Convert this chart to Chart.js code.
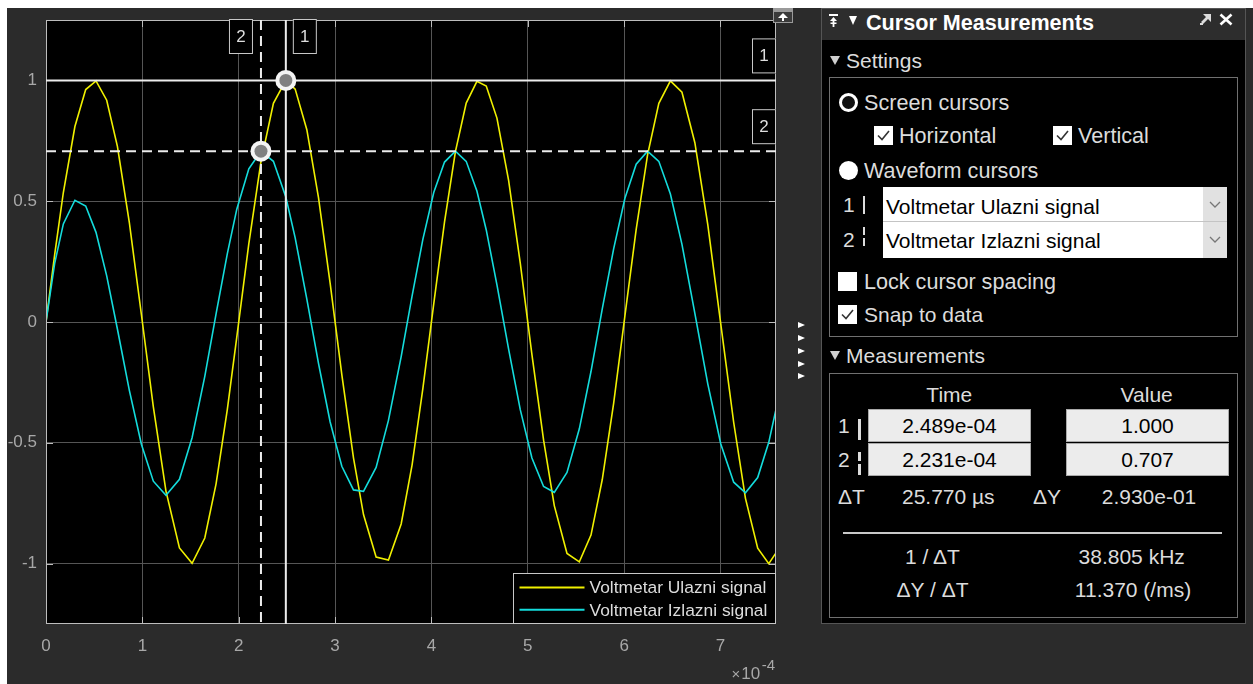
<!DOCTYPE html>
<html>
<head>
<meta charset="utf-8">
<title>Cursor Measurements</title>
<script src="https://cdn.jsdelivr.net/npm/chart.js@4.4.1/dist/chart.umd.min.js"></script>
<style>
  html, body { margin: 0; padding: 0; width: 1253px; height: 684px; overflow: hidden; background: #fff; font-family: "Liberation Sans", Arial, sans-serif; }
  #fig { position: absolute; left: 7px; top: 8px; width: 1246px; height: 676px; background: #2b2b2b; }
  #scope { position: absolute; left: 0; top: 0; }
  .abs { position: absolute; }
  .t { position: absolute; height: 24px; line-height: 24px; font-size: 21px; white-space: nowrap; color: #dcdcdc; }
  .c { text-align: center; width: 200px; }
  .box { position: absolute; border: 1px solid #707070; box-sizing: border-box; }
  .chk { position: absolute; width: 19px; height: 19px; background: #fff; }
  .tri-down { position: absolute; width: 0; height: 0; border-left: 5px solid transparent; border-right: 5px solid transparent; border-top: 9px solid #cfcfcf; }
  .tri-right { position: absolute; width: 0; height: 0; border-top: 3.5px solid transparent; border-bottom: 3.5px solid transparent; border-left: 7px solid #fff; }
  .field { position: absolute; background: #ececec; border: 1px solid #a9a9a9; box-sizing: border-box; color: #000; font-size: 21px; line-height: 31px; height: 33px; text-align: center; }
  .bar { position: absolute; width: 2.5px; background: #dcdcdc; }
</style>
</head>
<body>
<div id="fig"></div>
<canvas id="scope" width="800" height="684"></canvas>

<!-- small scope toolbar bits -->
<div class="abs" style="left:773px;top:8px;width:20px;height:15px;border:1px solid #9a9a9a;box-sizing:border-box;background:#3a3a3a;">
  <svg width="18" height="13" style="position:absolute;left:0;top:0">
    <rect x="0" y="0" width="18" height="3" fill="#9a9a9a"/>
    <polygon points="9,4 4,9 14,9" fill="#fff"/>
    <rect x="8" y="8" width="2" height="4" fill="#fff"/>
  </svg>
</div>
<div class="tri-right" style="left:798px;top:321.5px"></div>
<div class="tri-right" style="left:798px;top:334.5px"></div>
<div class="tri-right" style="left:798px;top:347.5px"></div>
<div class="tri-right" style="left:798px;top:360.5px"></div>
<div class="tri-right" style="left:798px;top:372.5px"></div>

<!-- Cursor Measurements panel -->
<div class="abs" style="left:821px;top:8px;width:425px;height:616px;border:1px solid #555;box-sizing:border-box;background:#000"></div>
<div class="abs" style="left:822px;top:9px;width:423px;height:31px;background:#2d2d2d"></div>
<svg class="abs" style="left:829px;top:14px" width="10" height="14">
  <rect x="0" y="0" width="9" height="2" fill="#fff"/>
  <polygon points="4.5,3 1,7 8,7" fill="#fff"/>
  <rect x="3.6" y="6" width="1.8" height="7" fill="#fff"/>
  <rect x="1.5" y="8.5" width="6" height="1.5" fill="#fff"/>
</svg>
<div class="tri-down" style="left:849px;top:16px;border-top-color:#fff;border-left-width:4px;border-right-width:4px"></div>
<div class="t" style="left:866px;top:11px;font-weight:bold;font-size:21.6px;color:#fff">Cursor Measurements</div>
<svg class="abs" style="left:1200px;top:14px" width="11" height="11">
  <polygon points="3,0 11,0 11,8 8,5 3,10 1,8 6,3" fill="#dcdcdc"/>
  <rect x="0" y="9" width="3" height="2" fill="#dcdcdc"/>
</svg>
<svg class="abs" style="left:1219px;top:13px" width="14" height="13">
  <line x1="1.5" y1="1.5" x2="12.5" y2="11.5" stroke="#fff" stroke-width="2.6"/>
  <line x1="12.5" y1="1.5" x2="1.5" y2="11.5" stroke="#fff" stroke-width="2.6"/>
</svg>

<!-- Settings -->
<div class="tri-down" style="left:830px;top:56px"></div>
<div class="t" style="left:846px;top:48.5px">Settings</div>
<div class="box" style="left:829px;top:77px;width:409px;height:260px"></div>

<div class="abs" style="left:838.5px;top:92.5px;width:19px;height:19px;border-radius:50%;border:3px solid #fff;box-sizing:border-box;background:#111"></div>
<div class="t" style="left:864px;top:90.5px;font-size:21.6px">Screen cursors</div>

<div class="chk" style="left:874px;top:126px">
  <svg width="19" height="19"><polyline points="4,9.5 8,13.5 15,5" fill="none" stroke="#333" stroke-width="1.6"/></svg>
</div>
<div class="t" style="left:899px;top:124px;font-size:21.6px">Horizontal</div>
<div class="chk" style="left:1053px;top:126px">
  <svg width="19" height="19"><polyline points="4,9.5 8,13.5 15,5" fill="none" stroke="#333" stroke-width="1.6"/></svg>
</div>
<div class="t" style="left:1078px;top:124px;font-size:21.6px">Vertical</div>

<div class="abs" style="left:838.5px;top:161px;width:19px;height:19px;border-radius:50%;background:#fff"></div>
<div class="t" style="left:864px;top:158.5px;font-size:21.6px">Waveform cursors</div>

<div class="t" style="left:843px;top:193px">1</div>
<div class="bar" style="left:862.5px;top:196px;height:18px"></div>
<div class="t" style="left:843px;top:228px">2</div>
<div class="bar" style="left:862.5px;top:227px;height:8px"></div>
<div class="bar" style="left:862.5px;top:238px;height:8px"></div>

<div class="abs" style="left:883px;top:187px;width:344px;height:71px;background:#fff"></div>
<div class="abs" style="left:1203px;top:187px;width:24px;height:71px;background:#e1e1e1"></div>
<div class="abs" style="left:883px;top:220.5px;width:344px;height:1px;background:#c4c4c4"></div>
<svg class="abs" style="left:1209px;top:201px" width="12" height="8"><polyline points="1,1 6,6 11,1" fill="none" stroke="#777" stroke-width="1.3"/></svg>
<svg class="abs" style="left:1209px;top:236px" width="12" height="8"><polyline points="1,1 6,6 11,1" fill="none" stroke="#777" stroke-width="1.3"/></svg>
<div class="t" style="left:886px;top:194.7px;color:#000">Voltmetar Ulazni signal</div>
<div class="t" style="left:886px;top:229.3px;color:#000">Voltmetar Izlazni signal</div>

<div class="chk" style="left:838px;top:272px"></div>
<div class="t" style="left:864px;top:269.7px;font-size:21.6px">Lock cursor spacing</div>
<div class="chk" style="left:838px;top:305px">
  <svg width="19" height="19"><polyline points="4,9.5 8,13.5 15,5" fill="none" stroke="#333" stroke-width="1.6"/></svg>
</div>
<div class="t" style="left:864px;top:303px">Snap to data</div>

<!-- Measurements -->
<div class="tri-down" style="left:830px;top:351px"></div>
<div class="t" style="left:846px;top:344.2px">Measurements</div>
<div class="box" style="left:829px;top:373px;width:409px;height:245px"></div>

<div class="t c" style="left:849.3px;top:382.5px">Time</div>
<div class="t c" style="left:1046.7px;top:382.5px">Value</div>

<div class="t" style="left:838px;top:413.8px">1</div>
<div class="bar" style="left:858px;top:419px;height:21px"></div>
<div class="t" style="left:838px;top:447.7px">2</div>
<div class="bar" style="left:858px;top:452px;height:9px"></div>
<div class="bar" style="left:858px;top:464px;height:11px"></div>

<div class="field" style="left:868px;top:409px;width:163px">2.489e-04</div>
<div class="field" style="left:868px;top:443px;width:163px">2.231e-04</div>
<div class="field" style="left:1066px;top:409px;width:163px">1.000</div>
<div class="field" style="left:1066px;top:443px;width:163px">0.707</div>

<div class="t" style="left:838px;top:485px">ΔT</div>
<div class="t c" style="left:848.3px;top:485px">25.770 µs</div>
<div class="t" style="left:1033px;top:485px">ΔY</div>
<div class="t c" style="left:1049px;top:485px">2.930e-01</div>

<div class="abs" style="left:843px;top:532px;width:379px;height:1.5px;background:#c8c8c8"></div>

<div class="t c" style="left:832.5px;top:544.7px">1 / ΔT</div>
<div class="t c" style="left:1031.7px;top:544.7px">38.805 kHz</div>
<div class="t c" style="left:832.5px;top:578px">ΔY / ΔT</div>
<div class="t c" style="left:1033px;top:578px">11.370 (/ms)</div>

<script>
// time axis in units of 1e-4 s (the axis shows "x10^-4")
const time = [0, 0.09, 0.18, 0.30, 0.412, 0.519, 0.63, 0.741, 0.865, 0.99,
  1.114, 1.245, 1.385, 1.516, 1.648, 1.765, 1.882, 1.98, 2.105, 2.231,
  2.36, 2.489, 2.586, 2.707, 2.828, 2.949, 3.07, 3.191, 3.295, 3.426,
  3.554, 3.686, 3.799, 3.911, 4.024, 4.136, 4.249, 4.361, 4.472, 4.569,
  4.68, 4.801, 4.922, 5.043, 5.164, 5.275, 5.407, 5.535, 5.656, 5.773,
  5.891, 6.008, 6.125, 6.243, 6.36, 6.48, 6.60, 6.734, 6.868, 7.003,
  7.137, 7.259, 7.386, 7.501, 7.62];

const ulazni = [0, 0.279, 0.536, 0.809, 0.962, 0.998, 0.918, 0.727, 0.411, 0.031,
  -0.351, -0.700, -0.935, -0.999, -0.894, -0.670, -0.362, -0.063, 0.324, 0.664,
  0.905, 1.000, 0.964, 0.796, 0.515, 0.160, -0.218, -0.562, -0.797, -0.973,
  -0.985, -0.836, -0.592, -0.276, 0.075, 0.414, 0.705, 0.906, 0.996, 0.977,
  0.844, 0.586, 0.244, -0.135, -0.489, -0.760, -0.958, -0.993, -0.882, -0.652,
  -0.337, 0.025, 0.383, 0.692, 0.905, 0.998, 0.951, 0.742, 0.403, -0.009,
  -0.416, -0.730, -0.936, -1.000, -0.930];

const izlazni = [0, 0.243, 0.406, 0.504, 0.480, 0.371, 0.191, -0.029, -0.283, -0.506,
  -0.659, -0.717, -0.651, -0.479, -0.225, 0.034, 0.283, 0.467, 0.634, 0.707,
  0.665, 0.517, 0.348, 0.095, -0.171, -0.414, -0.597, -0.695, -0.701, -0.602,
  -0.407, -0.143, 0.107, 0.342, 0.536, 0.662, 0.707, 0.665, 0.542, 0.381,
  0.154, -0.112, -0.363, -0.563, -0.681, -0.705, -0.623, -0.442, -0.205, 0.054,
  0.303, 0.512, 0.653, 0.707, 0.665, 0.530, 0.321, 0.036, -0.256, -0.505,
  -0.663, -0.707, -0.644, -0.498, -0.281];

const seriesNames = ["Voltmetar Ulazni signal", "Voltmetar Izlazni signal"];
const xTicks = [0, 1, 2, 3, 4, 5, 6, 7];
const yTicks = [-1, -0.5, 0, 0.5, 1];
const xExponent = "-4";

// cursor 1 (solid) and cursor 2 (dashed)
const cursorTime = [2.489, 2.231];
const cursorValue = [1.000, 0.707];
const cursorNames = ["1", "2"];

Chart.defaults.font.family = '"Liberation Sans", Arial, sans-serif';

function labelBox(ctx, left, top, text) {
  ctx.fillStyle = "#000";
  ctx.fillRect(left, top, 24, 35);
  ctx.strokeStyle = "#c8c8c8";
  ctx.lineWidth = 1;
  ctx.strokeRect(left + 0.5, top + 0.5, 23, 34);
  ctx.fillStyle = "#dedede";
  ctx.font = '17px "Liberation Sans", Arial, sans-serif';
  ctx.textAlign = "center";
  ctx.textBaseline = "middle";
  ctx.fillText(text, left + 12, top + 18);
}

function marker(ctx, x, y) {
  ctx.beginPath();
  ctx.arc(x, y, 10.5, 0, Math.PI * 2);
  ctx.fillStyle = "#f4f4f4";
  ctx.fill();
  ctx.beginPath();
  ctx.arc(x, y, 6.5, 0, Math.PI * 2);
  ctx.fillStyle = "#808080";
  ctx.fill();
}

const scopeOverlay = {
  id: "scopeOverlay",
  beforeDraw(chart) {
    const { ctx, chartArea: a } = chart;
    ctx.save();
    ctx.fillStyle = "#000";
    ctx.fillRect(a.left, a.top, a.right - a.left, a.bottom - a.top);
    ctx.restore();
  },
  afterDatasetsDraw(chart) {
    const { ctx, chartArea: a, scales: { x, y } } = chart;
    ctx.save();

    // axes box with inward ticks
    ctx.strokeStyle = "#bdbdbd";
    ctx.lineWidth = 1;
    ctx.strokeRect(a.left + 0.5, a.top + 0.5, a.right - a.left - 1, a.bottom - a.top - 1);
    ctx.beginPath();
    yTicks.forEach((v) => {
      const py = Math.round(y.getPixelForValue(v)) + 0.5;
      ctx.moveTo(a.left, py); ctx.lineTo(a.left + 7, py);
      ctx.moveTo(a.right - 7, py); ctx.lineTo(a.right, py);
    });
    xTicks.forEach((v) => {
      const px = Math.round(x.getPixelForValue(v)) + 0.5;
      ctx.moveTo(px, a.bottom); ctx.lineTo(px, a.bottom - 7);
      ctx.moveTo(px, a.top); ctx.lineTo(px, a.top + 7);
    });
    ctx.stroke();

    // cursor lines
    const vx1 = x.getPixelForValue(cursorTime[0]);
    const vx2 = x.getPixelForValue(cursorTime[1]);
    const hy1 = y.getPixelForValue(cursorValue[0]);
    const hy2 = y.getPixelForValue(cursorValue[1]);

    ctx.strokeStyle = "#ececec";
    ctx.lineWidth = 2;
    ctx.setLineDash([]);
    ctx.beginPath();
    ctx.moveTo(vx1, a.top); ctx.lineTo(vx1, a.bottom);
    ctx.moveTo(a.left, hy1); ctx.lineTo(a.right, hy1);
    ctx.stroke();

    ctx.setLineDash([10, 6]);
    ctx.beginPath();
    ctx.moveTo(vx2, a.top); ctx.lineTo(vx2, a.bottom);
    ctx.moveTo(a.left, hy2); ctx.lineTo(a.right, hy2);
    ctx.stroke();
    ctx.setLineDash([]);

    // cursor labels
    labelBox(ctx, vx1 + 7, a.top - 1, cursorNames[0]);
    labelBox(ctx, vx2 - 32, a.top - 1, cursorNames[1]);
    labelBox(ctx, a.right - 24, hy1 - 42, cursorNames[0]);
    labelBox(ctx, a.right - 24, hy2 - 42, cursorNames[1]);

    marker(ctx, vx1, hy1);
    marker(ctx, vx2, hy2);

    ctx.restore();
  },
  afterDraw(chart) {
    const { ctx, chartArea: a } = chart;
    ctx.save();

    // legend inside the bottom right corner
    const lw = 263, lh = 51;
    const lx = a.right - lw, ly = a.bottom - lh;
    ctx.fillStyle = "#000";
    ctx.fillRect(lx, ly, lw, lh);
    ctx.strokeStyle = "#c8c8c8";
    ctx.lineWidth = 1;
    ctx.strokeRect(lx + 0.5, ly + 0.5, lw - 1, lh - 1);
    ctx.font = '17.4px "Liberation Sans", Arial, sans-serif';
    ctx.textAlign = "left";
    ctx.textBaseline = "middle";
    chart.data.datasets.forEach((ds, i) => {
      const ry = ly + 14.5 + i * 22.3;
      ctx.strokeStyle = ds.borderColor;
      ctx.lineWidth = 2;
      ctx.beginPath();
      ctx.moveTo(lx + 6.5, ry); ctx.lineTo(lx + 71.5, ry);
      ctx.stroke();
      ctx.fillStyle = "#dcdcdc";
      ctx.fillText(ds.label, lx + 76.5, ry + 1);
    });

    // x axis exponent
    ctx.fillStyle = "#a8a8a8";
    ctx.textBaseline = "middle";
    ctx.font = '15px "Liberation Sans", Arial, sans-serif';
    ctx.textAlign = "right";
    ctx.fillText(xExponent, a.right - 1, 666);
    const expW = ctx.measureText(xExponent).width;
    ctx.font = '17px "Liberation Sans", Arial, sans-serif';
    ctx.fillText("10", a.right - expW - 2.5, 674);
    const tenW = ctx.measureText("10").width;
    ctx.font = '15px "Liberation Sans", Arial, sans-serif';
    ctx.fillText("\u00d7", a.right - expW - tenW - 3.5, 675);

    ctx.restore();
  },
};

const chart = new Chart(document.getElementById("scope"), {
  type: "line",
  data: {
    datasets: [
      {
        label: seriesNames[0],
        data: time.map((t, i) => ({ x: t, y: ulazni[i] })),
        borderColor: "#f0f000",
        borderWidth: 1.6,
        pointRadius: 0,
        tension: 0,
        order: 2,
      },
      {
        label: seriesNames[1],
        data: time.map((t, i) => ({ x: t, y: izlazni[i] })),
        borderColor: "#14dcdc",
        borderWidth: 1.6,
        pointRadius: 0,
        tension: 0,
        order: 1,
      },
    ],
  },
  options: {
    responsive: false,
    animation: false,
    devicePixelRatio: 1,
    layout: { padding: { left: 0, top: 20, right: 24, bottom: 0 } },
    plugins: { legend: { display: false }, tooltip: { enabled: false } },
    scales: {
      x: {
        type: "linear",
        min: 0,
        max: 7.576,
        afterBuildTicks: (s) => { s.ticks = xTicks.map((v) => ({ value: v })); },
        afterFit: (s) => { s.height = 60; },
        grid: { color: "#555", drawTicks: false },
        border: { display: false },
        ticks: { color: "#a8a8a8", font: { size: 17 }, padding: 12, maxRotation: 0, autoSkip: false, callback: (v) => String(v) },
      },
      y: {
        type: "linear",
        min: -1.25,
        max: 1.25,
        afterBuildTicks: (s) => { s.ticks = yTicks.map((v) => ({ value: v })); },
        afterFit: (s) => { s.width = 46; },
        grid: { color: "#555", drawTicks: false },
        border: { display: false },
        ticks: { color: "#a8a8a8", font: { size: 17 }, padding: 9, autoSkip: false, callback: (v) => String(v) },
      },
    },
  },
  plugins: [scopeOverlay],
});
</script>
</body>
</html>
